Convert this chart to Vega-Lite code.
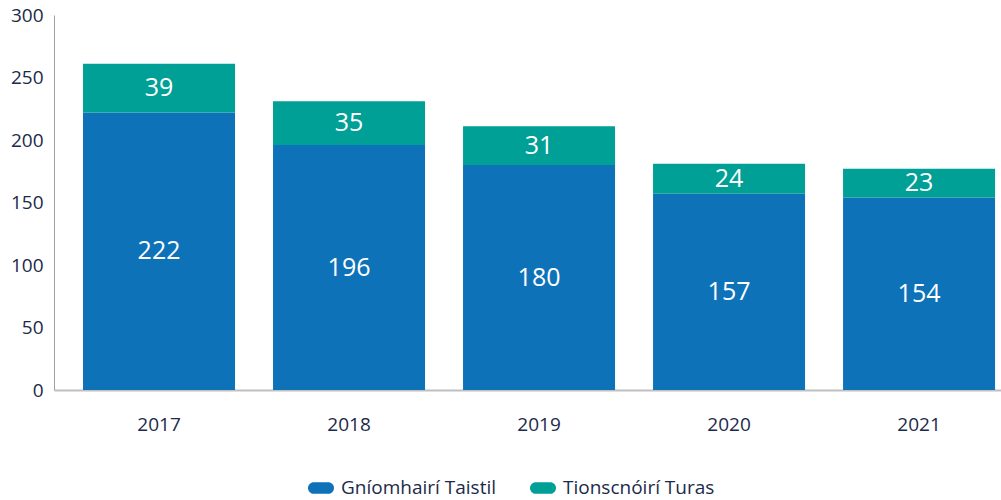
{
  "$schema": "https://vega.github.io/schema/vega-lite/v6.json",
  "width": 947,
  "height": 375,
  "padding": {"left": 54, "top": 15, "right": 0, "bottom": 110},
  "autosize": {"type": "none"},
  "background": "white",
  "config": {
    "view": {"stroke": null},
    "font": "Open Sans",
    "axis": {"labelFont": "Open Sans", "labelColor": "#1b2a4a", "grid": false, "ticks": false, "title": null},
    "legend": {"labelFont": "Open Sans", "labelColor": "#1b2a4a"}
  },
  "data": {
    "values": [
      {"year": "2017", "series": "Gníomhairí Taistil", "order": 1, "value": 222},
      {"year": "2017", "series": "Tionscnóirí Turas", "order": 2, "value": 39},
      {"year": "2018", "series": "Gníomhairí Taistil", "order": 1, "value": 196},
      {"year": "2018", "series": "Tionscnóirí Turas", "order": 2, "value": 35},
      {"year": "2019", "series": "Gníomhairí Taistil", "order": 1, "value": 180},
      {"year": "2019", "series": "Tionscnóirí Turas", "order": 2, "value": 31},
      {"year": "2020", "series": "Gníomhairí Taistil", "order": 1, "value": 157},
      {"year": "2020", "series": "Tionscnóirí Turas", "order": 2, "value": 24},
      {"year": "2021", "series": "Gníomhairí Taistil", "order": 1, "value": 154},
      {"year": "2021", "series": "Tionscnóirí Turas", "order": 2, "value": 23}
    ]
  },
  "encoding": {
    "x": {
      "field": "year", "type": "nominal",
      "scale": {"paddingInner": 0.2, "paddingOuter": 0.092, "align": 0.83},
      "axis": {"labelAngle": 0, "labelFontSize": 19, "labelPadding": 25, "domainColor": "#c0c0c0", "domainWidth": 2}
    },
    "order": {"field": "order", "type": "quantitative"}
  },
  "layer": [
    {
      "mark": {"type": "bar"},
      "encoding": {
        "y": {
          "field": "value", "type": "quantitative", "stack": "zero",
          "scale": {"domain": [0, 300]},
          "axis": {"values": [0, 50, 100, 150, 200, 250, 300], "labelFontSize": 19, "labelPadding": 11, "domainColor": "#a0a0a0", "domainWidth": 1}
        },
        "color": {
          "field": "series", "type": "nominal",
          "scale": {"domain": ["Gníomhairí Taistil", "Tionscnóirí Turas"], "range": ["#0e72b9", "#00a096"]},
          "legend": {
            "title": null, "orient": "none", "direction": "horizontal",
            "legendX": 254, "legendY": 460,
            "labelFontSize": 19, "symbolType": "M-0.55,-0.45L0.55,-0.45A0.45,0.45 0 0 1 0.55,0.45L-0.55,0.45A0.45,0.45 0 0 1 -0.55,-0.45Z",
            "symbolSize": 676, "symbolStrokeWidth": 0, "columnPadding": 32, "labelOffset": 7
          }
        }
      }
    },
    {
      "mark": {"type": "text", "color": "white", "fontSize": 25, "baseline": "middle"},
      "encoding": {
        "y": {"field": "value", "type": "quantitative", "stack": "zero", "bandPosition": 0.5},
        "text": {"field": "value", "type": "quantitative"}
      }
    }
  ]
}
